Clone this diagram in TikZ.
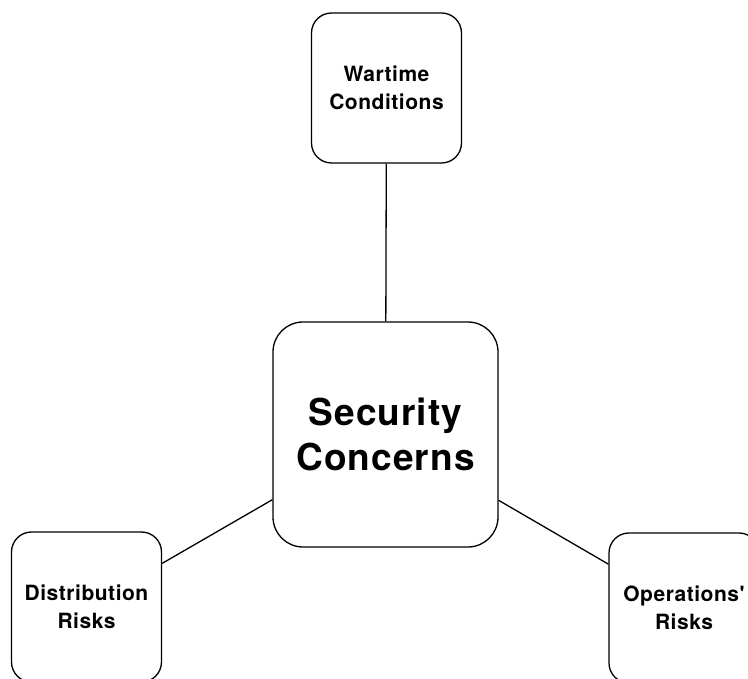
\documentclass[tikz,border=0pt]{standalone}
\usepackage{fontspec}
\setmainfont{TeX Gyre Heros}
\newfontfamily\boxfont[LetterSpace=2.5]{TeX Gyre Heros}
\newfontfamily\hubfont[LetterSpace=3]{TeX Gyre Heros}
\usepackage{tikz}

\begin{document}
\begin{tikzpicture}[x=1pt,y=-1pt,line width=1.3pt]
						\tikzstyle{every node}+=[inner sep=0pt,align=center]
						\tikzstyle{leaf}=[draw=black,rounded corners=20pt,minimum size=150pt,font=\boxfont\bfseries\fontsize{21}{27.5}\selectfont]
						\tikzstyle{hub}=[draw=black,rounded corners=30pt,minimum size=225pt,font=\hubfont\bfseries\fontsize{37}{45}\selectfont]
						\useasboundingbox (0,0) rectangle (748,679);
						\node [hub] (sec) at (385.5,434.5) {Security\\Concerns};
						\node [leaf] (war) at (386.5,88) {Wartime\\Conditions};
						\node [leaf] (dis) at (86.5,607) {Distribution\\Risks};
						\node [leaf] (ops) at (684,608) {Operations'\\Risks};
						\draw [black] (sec) -- (war);
						\draw [black] (sec) -- (dis);
						\draw [black] (sec) -- (ops);
					\end{tikzpicture}
\end{document}
